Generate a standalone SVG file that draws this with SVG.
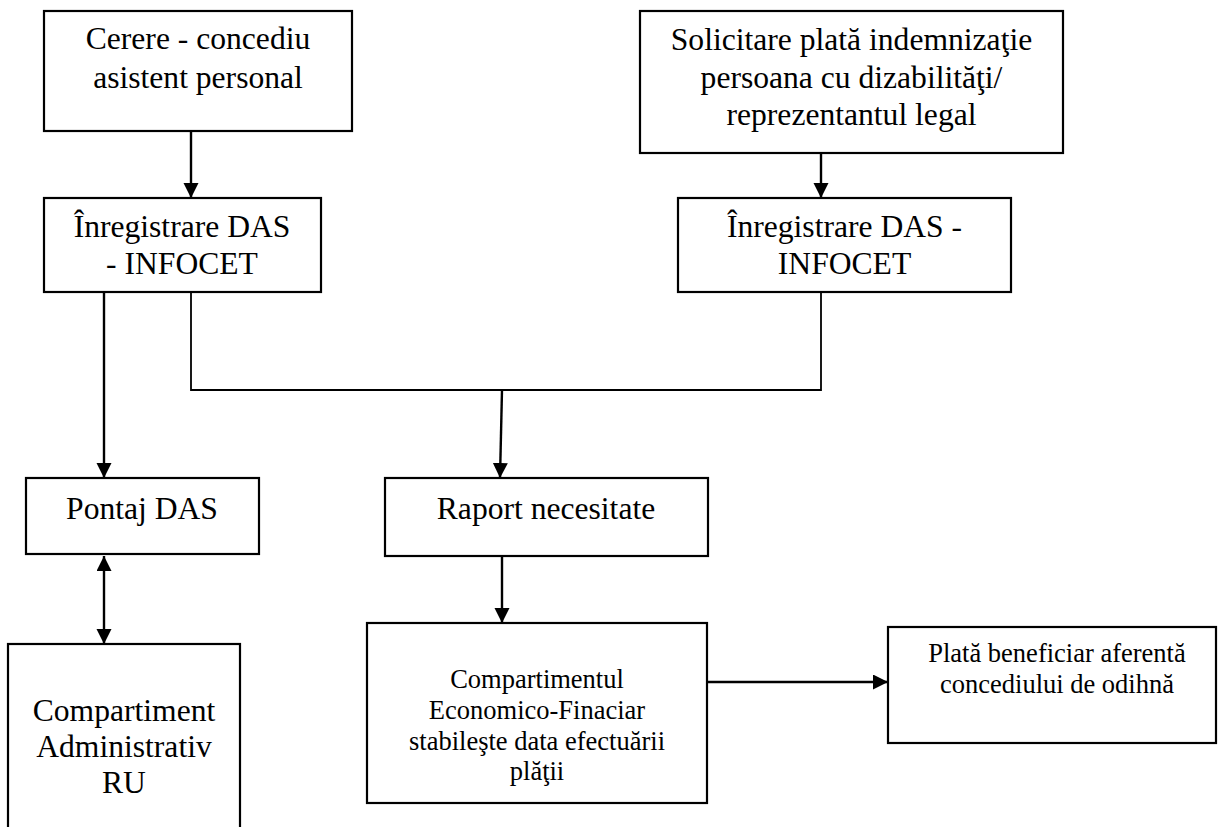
<svg xmlns="http://www.w3.org/2000/svg" width="1218" height="827" viewBox="0 0 1218 827">
<style>
  .box { fill: #fff; stroke: #000; stroke-width: 2.2; }
  .t { font-family: "Liberation Serif", "Times New Roman", serif; font-size: 31.6px; fill: #000; text-anchor: middle; }
  .s { font-size: 26.5px; }
  .c { fill: none; stroke: #000; stroke-width: 2.4; }
  .thin { fill: none; stroke: #000; stroke-width: 1.8; }
</style>
<defs>
  <marker id="ah" markerUnits="userSpaceOnUse" markerWidth="16" markerHeight="16" refX="15" refY="7.5" orient="auto-start-reverse">
    <path d="M0,0 L15,7.5 L0,15 z" fill="#000"/>
  </marker>
</defs>
<rect width="1218" height="827" fill="#fff"/>

<g id="connectors">
  <line class="c" x1="191" y1="131" x2="191" y2="198" marker-end="url(#ah)"/>
  <line class="c" x1="821" y1="153" x2="821" y2="198" marker-end="url(#ah)"/>
  <line class="c" x1="104" y1="292" x2="104" y2="478" marker-end="url(#ah)"/>
  <polyline class="thin" points="191,292 191,390 821,390 821,292"/>
  <line class="c" x1="502" y1="390" x2="500" y2="478" marker-end="url(#ah)"/>
  <line class="c" x1="104" y1="556" x2="104" y2="644" marker-start="url(#ah)" marker-end="url(#ah)"/>
  <line class="c" x1="502" y1="556" x2="502" y2="623" marker-end="url(#ah)"/>
  <line class="c" x1="707" y1="682" x2="888" y2="682" marker-end="url(#ah)"/>
</g>

<g id="n-cerere">
  <rect class="box" x="44" y="11" width="308" height="120"/>
  <text class="t" x="198" y="49">Cerere - concediu</text>
  <text class="t" x="198" y="88">asistent personal</text>
</g>

<g id="n-solicitare">
  <rect class="box" x="640" y="11" width="423" height="142"/>
  <text class="t" x="851.5" y="50">Solicitare plată indemnizaţie</text>
  <text class="t" x="851.5" y="88">persoana cu dizabilităţi/</text>
  <text class="t" x="851.5" y="125">reprezentantul legal</text>
</g>

<g id="n-inreg1">
  <rect class="box" x="44" y="198" width="277" height="94"/>
  <text class="t" x="182" y="237">Înregistrare DAS</text>
  <text class="t" x="182" y="274">- INFOCET</text>
</g>

<g id="n-inreg2">
  <rect class="box" x="678" y="198" width="333" height="94"/>
  <text class="t" x="844.5" y="237">Înregistrare DAS -</text>
  <text class="t" x="844.5" y="274">INFOCET</text>
</g>

<g id="n-pontaj">
  <rect class="box" x="26" y="478" width="233" height="76"/>
  <text class="t" x="142" y="519">Pontaj DAS</text>
</g>

<g id="n-raport">
  <rect class="box" x="385" y="478" width="323" height="78"/>
  <text class="t" x="546" y="519">Raport necesitate</text>
</g>

<g id="n-admin">
  <rect class="box" x="8" y="644" width="232" height="200"/>
  <text class="t" x="124" y="721">Compartiment</text>
  <text class="t" x="124" y="757">Administrativ</text>
  <text class="t" x="124" y="793">RU</text>
</g>

<g id="n-econ">
  <rect class="box" x="367" y="623" width="340" height="180"/>
  <text class="t s" x="537" y="688">Compartimentul</text>
  <text class="t s" x="537" y="719">Economico-Finaciar</text>
  <text class="t s" x="537" y="750">stabileşte data efectuării</text>
  <text class="t s" x="537" y="780">plăţii</text>
</g>

<g id="n-plata">
  <rect class="box" x="888" y="627" width="328" height="116"/>
  <text class="t s" x="1057" y="662">Plată beneficiar aferentă</text>
  <text class="t s" x="1057" y="693">concediului de odihnă</text>
</g>
</svg>
